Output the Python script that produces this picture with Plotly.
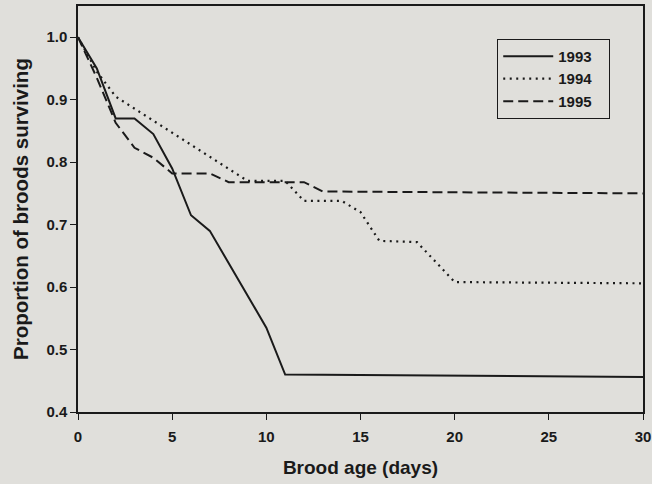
import plotly.graph_objects as go

# Data
days_1993 = [0, 1, 2, 3, 4, 5, 6, 7, 10, 11, 30]
surv_1993 = [1.0, 0.95, 0.87, 0.87, 0.845, 0.79, 0.715, 0.69, 0.535, 0.46, 0.456]

days_1994 = [0, 1, 2, 9, 11, 12, 14, 15, 16, 18, 20, 30]
surv_1994 = [1.0, 0.945, 0.905, 0.77, 0.77, 0.738, 0.738, 0.72, 0.674, 0.672, 0.608, 0.606]

days_1995 = [0, 1, 2, 3, 4, 5, 7, 8, 12, 13, 30]
surv_1995 = [1.0, 0.935, 0.863, 0.823, 0.807, 0.782, 0.782, 0.768, 0.768, 0.753, 0.75]

series_names = ["1993", "1994", "1995"]
x_ticks = [0, 5, 10, 15, 20, 25, 30]
y_ticks = [0.4, 0.5, 0.6, 0.7, 0.8, 0.9, 1.0]

bg = "#e0dfdb"
ink = "#1a1a1a"
font_family = "Liberation Sans, Arial, sans-serif"
pad = "\u00a0\u00a0\u00a0"

fig = go.Figure()
fig.add_trace(go.Scatter(x=days_1993, y=surv_1993, mode="lines", name=series_names[0] + pad,
                         line=dict(color=ink, width=2, dash="solid")))
fig.add_trace(go.Scatter(x=days_1994, y=surv_1994, mode="lines", name=series_names[1] + pad,
                         line=dict(color=ink, width=2.2, dash="2px,4.5px")))
fig.add_trace(go.Scatter(x=days_1995, y=surv_1995, mode="lines", name=series_names[2] + pad,
                         line=dict(color=ink, width=2, dash="10px,5px")))

axis_common = dict(
    showline=True, linecolor=ink, linewidth=1.5, mirror=True,
    ticks="outside", ticklen=6, tickwidth=1.2, tickcolor=ink,
    showgrid=False, zeroline=False, automargin=False,
    tickfont=dict(family=font_family, size=15, color=ink, weight="bold"),
)

fig.update_layout(
    width=652, height=484,
    margin=dict(l=78, r=9, t=6, b=72),
    paper_bgcolor=bg, plot_bgcolor=bg,
    font=dict(family=font_family, color=ink),
    showlegend=True,
    legend=dict(
        x=0.742, y=0.919, xanchor="left", yanchor="top",
        bgcolor=bg, bordercolor=ink, borderwidth=1,
        font=dict(family=font_family, size=15, color=ink, weight="bold"),
        itemwidth=50,
    ),
    xaxis=dict(range=[0, 30], tickvals=x_ticks, ticktext=[str(v) for v in x_ticks],
               ticklabelstandoff=4,
               title=dict(text="Brood age (days)", standoff=17,
                          font=dict(family=font_family, size=19, color=ink, weight="bold")),
               **axis_common),
    yaxis=dict(range=[0.4, 1.05], tickvals=y_ticks, ticktext=[f"{v:.1f}" for v in y_ticks],
               title=dict(text="Proportion of broods surviving", standoff=12,
                          font=dict(family=font_family, size=20.5, color=ink, weight="bold")),
               **axis_common),
)

fig.write_html(
    "out.html",
    config={"displayModeBar": False},
    post_script="document.body.style.margin='0';document.body.style.overflow='hidden';"
                "document.body.style.background='" + bg + "';",
)
